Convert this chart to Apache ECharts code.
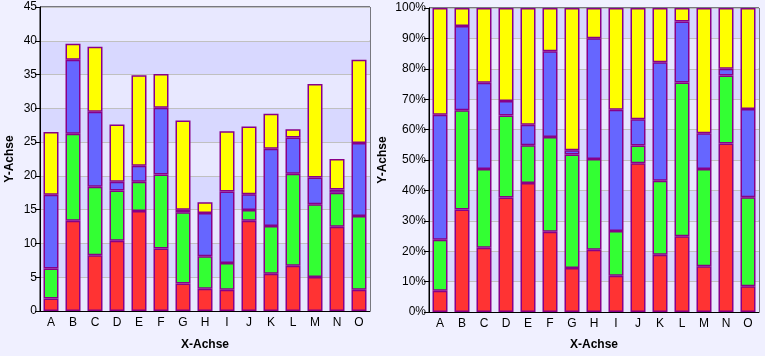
<!DOCTYPE html>
<html><head><meta charset="utf-8">
<script src="https://cdn.jsdelivr.net/npm/echarts@6/dist/echarts.min.js"></script>
<style>html,body{margin:0;padding:0;background:#F0F0FF;}#c{width:765px;height:356px;}</style>
</head><body><div id="c"></div>
<script>
var categories = ['A','B','C','D','E','F','G','H','I','J','K','L','M','N','O'];
var redVals    = [1.85,13.35,8.25,10.4,14.8,9.27,4.08,3.3,3.16,13.35,5.5,6.7,5.05,12.47,3.16];
var greenVals  = [4.45,12.9,10.15,7.45,4.35,10.93,10.52,4.8,3.93,1.6,7.1,13.6,10.75,5.03,10.9];
var blueVals   = [10.9,10.95,11.1,1.3,2.35,9.9,0.4,6.4,10.6,2.35,11.4,5.4,3.95,0.5,10.8];
var yellowVals = [9.3,2.35,9.6,8.45,13.4,5.0,13.2,1.6,8.9,10.0,5.2,1.2,13.85,4.5,12.35];
var leftTicks = {min:0, max:45, interval:5};
var rightTicks = {min:0, max:100, interval:10};

var seriesDefs = [
  {name:'red', data:redVals, color:'#FF3333'},
  {name:'green', data:greenVals, color:'#33FF33'},
  {name:'blue', data:blueVals, color:'#6666FF'},
  {name:'yellow', data:yellowVals, color:'#FFFF00'}
];
var totals = categories.map(function(_,i){
  return seriesDefs.reduce(function(s,d){return s+d.data[i];},0);
});

var font = 'Liberation Sans, Arial, sans-serif';
function xAxis(idx){
  return {type:'category', gridIndex:idx, data:categories,
    name:'X-Achse', nameLocation:'middle', nameGap:idx===0?28:27,
    nameTextStyle:{fontWeight:'bold', fontSize:12, color:'#000', fontFamily:font},
    axisLine:{lineStyle:{color:'#000', width:1}},
    axisTick:{alignWithLabel:true, length:4, lineStyle:{color:'#000'}},
    axisLabel:{color:'#000', fontSize:12, fontFamily:font, margin:6},
    splitLine:{show:false}};
}
function yAxis(idx, t, fmt, gap){
  return {type:'value', gridIndex:idx, min:t.min, max:t.max, interval:t.interval,
    name:'Y-Achse', nameLocation:'middle', nameGap:gap,
    nameTextStyle:{fontWeight:'bold', fontSize:12, color:'#000', fontFamily:font},
    axisLine:{show:true, lineStyle:{color:'#000', width:1}},
    axisTick:{show:true, length:5, lineStyle:{color:'#000'}},
    axisLabel:{color:'#000', fontSize:12, fontFamily:font, margin:3, formatter:fmt},
    splitLine:{show:true, lineStyle:{color:'#C0C0C0', width:1}},
    splitArea:{show:true, areaStyle:{color:['#E8E8FF','#D8D8FF']}}};
}
var series = [];
seriesDefs.forEach(function(d){
  series.push({type:'bar', name:d.name, xAxisIndex:0, yAxisIndex:0, stack:'L',
    data:d.data, barWidth:15, itemStyle:{color:d.color, borderColor:'#880088', borderWidth:1.5}});
});
seriesDefs.forEach(function(d){
  series.push({type:'bar', name:d.name+'p', xAxisIndex:1, yAxisIndex:1, stack:'R',
    data:d.data.map(function(v,i){return v/totals[i]*100;}), barWidth:15,
    itemStyle:{color:d.color, borderColor:'#880088', borderWidth:1.5}});
});
var chart = echarts.init(document.getElementById('c'), null, {renderer:'canvas'});
chart.setOption({
  backgroundColor:'#F0F0FF',
  animation:false,
  grid:[
    {left:40, top:7, width:330, height:310, show:true, borderColor:'#000', borderWidth:1, backgroundColor:'transparent'},
    {left:429, top:8, width:330, height:310, show:true, borderColor:'#000', borderWidth:1, backgroundColor:'transparent'}
  ],
  xAxis:[xAxis(0), xAxis(1)],
  yAxis:[yAxis(0, leftTicks, '{value}', 24), yAxis(1, rightTicks, '{value}%', 40)],
  series:series
});
</script></body></html>
